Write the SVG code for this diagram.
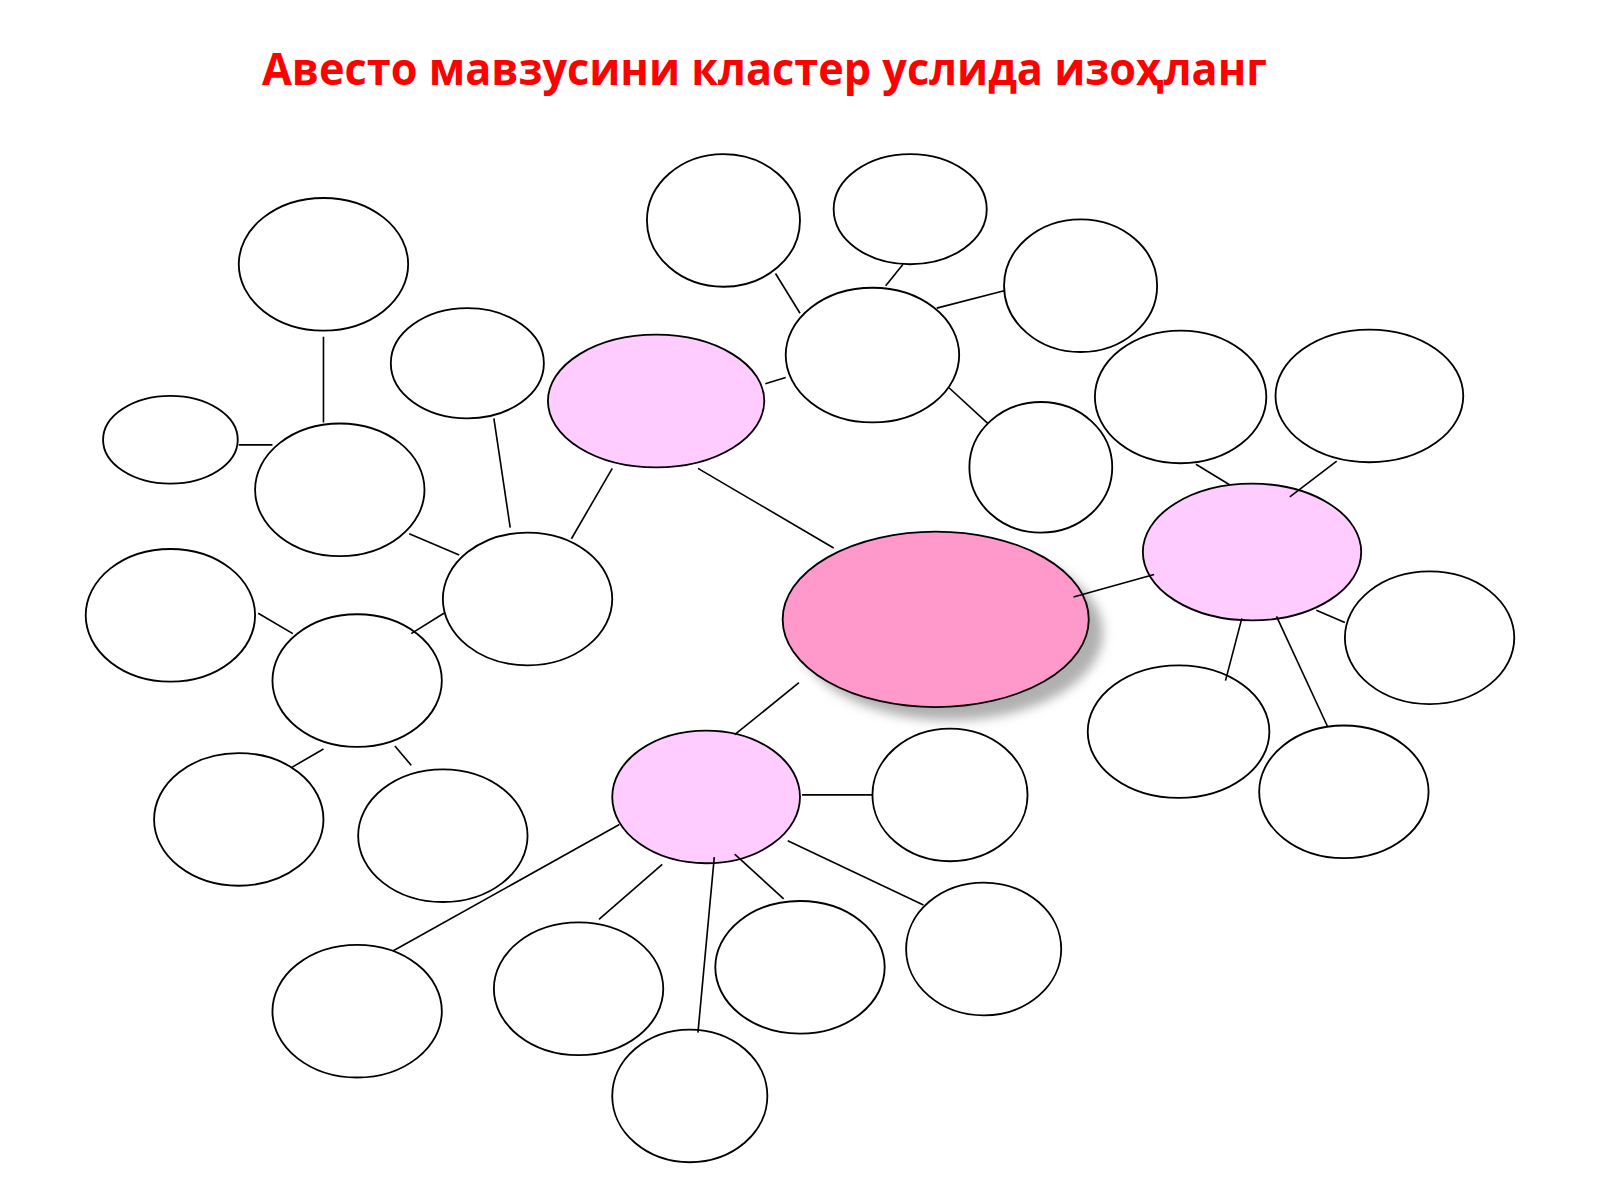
<svg xmlns="http://www.w3.org/2000/svg" width="1600" height="1200" viewBox="0 0 1600 1200">
<style>
.n{fill:#ffffff;stroke:#000;stroke-width:1.8}
.p{fill:#ffccff;stroke:#000;stroke-width:1.8}
.c{fill:#ff99cc;stroke:#000;stroke-width:1.8}
.l{stroke:#000;stroke-width:1.6;fill:none}
.t{font-family:"Open Sans","Noto Sans","DejaVu Sans",sans-serif;font-weight:bold;font-size:45px;fill:#ff0000}
</style>
<defs>
<filter id="sh" x="-20%" y="-20%" width="140%" height="140%"><feGaussianBlur stdDeviation="5"/></filter>
</defs>
<rect width="1600" height="1200" fill="#ffffff"/>
<text class="t" x="262" y="85" textLength="1005" lengthAdjust="spacingAndGlyphs">Авесто мавзусини кластер услида изоҳланг</text>
<g transform="scale(1.0204)">
<g id="center">
<ellipse cx="931" cy="620" rx="150" ry="86" fill="#b0b0b0" filter="url(#sh)"/>
<ellipse class="c" cx="917" cy="607" rx="150" ry="86"/>
</g>
<g id="hub1"><ellipse class="p" cx="643" cy="393" rx="106" ry="65"/></g>
<g id="hub2"><ellipse class="p" cx="1227" cy="541" rx="107" ry="67"/></g>
<g id="hub3"><ellipse class="p" cx="692" cy="781" rx="92" ry="65"/></g>
<g id="n5"><ellipse class="n" cx="317" cy="259" rx="83" ry="65"/></g>
<g id="n6"><ellipse class="n" cx="458" cy="356" rx="75" ry="54"/></g>
<g id="n7"><ellipse class="n" cx="167" cy="431" rx="66" ry="43"/></g>
<g id="n8"><ellipse class="n" cx="333" cy="480" rx="83" ry="65"/></g>
<g id="n9"><ellipse class="n" cx="517" cy="587" rx="83" ry="65"/></g>
<g id="n10"><ellipse class="n" cx="167" cy="603" rx="83" ry="65"/></g>
<g id="n11"><ellipse class="n" cx="350" cy="667" rx="83" ry="65"/></g>
<g id="n12"><ellipse class="n" cx="234" cy="803" rx="83" ry="65"/></g>
<g id="n13"><ellipse class="n" cx="434" cy="819" rx="83" ry="65"/></g>
<g id="n14"><ellipse class="n" cx="709" cy="216" rx="75" ry="65"/></g>
<g id="n15"><ellipse class="n" cx="892" cy="205" rx="75" ry="54"/></g>
<g id="n16"><ellipse class="n" cx="855" cy="348" rx="85" ry="66"/></g>
<g id="n17"><ellipse class="n" cx="1059" cy="280" rx="75" ry="65"/></g>
<g id="n18"><ellipse class="n" cx="1020" cy="458" rx="70" ry="64"/></g>
<g id="n19"><ellipse class="n" cx="1157" cy="389" rx="84" ry="65"/></g>
<g id="n20"><ellipse class="n" cx="1342" cy="388" rx="92" ry="65"/></g>
<g id="n21"><ellipse class="n" cx="1401" cy="625" rx="83" ry="65"/></g>
<g id="n22"><ellipse class="n" cx="1155" cy="717" rx="89" ry="65"/></g>
<g id="n23"><ellipse class="n" cx="1317" cy="776" rx="83" ry="65"/></g>
<g id="n24"><ellipse class="n" cx="931" cy="779" rx="76" ry="65"/></g>
<g id="n25"><ellipse class="n" cx="964" cy="930" rx="76" ry="65"/></g>
<g id="n26"><ellipse class="n" cx="784" cy="948" rx="83" ry="65"/></g>
<g id="n27"><ellipse class="n" cx="567" cy="969" rx="83" ry="65"/></g>
<g id="n28"><ellipse class="n" cx="350" cy="991" rx="83" ry="65"/></g>
<g id="n29"><ellipse class="n" cx="676" cy="1074" rx="76" ry="65"/></g>
<g id="connectors">
<line class="l" x1="317" y1="330" x2="317" y2="414"/>
<line class="l" x1="234" y1="436" x2="267" y2="436"/>
<line class="l" x1="484" y1="410" x2="500" y2="517"/>
<line class="l" x1="401" y1="523" x2="450" y2="544"/>
<line class="l" x1="560" y1="528" x2="600" y2="459"/>
<line class="l" x1="684" y1="459" x2="817" y2="537"/>
<line class="l" x1="750" y1="376" x2="770" y2="370"/>
<line class="l" x1="760" y1="268" x2="784" y2="307"/>
<line class="l" x1="868" y1="280" x2="885" y2="259"/>
<line class="l" x1="918" y1="302" x2="984" y2="285"/>
<line class="l" x1="930" y1="380" x2="968" y2="415"/>
<line class="l" x1="1052" y1="585" x2="1131" y2="563"/>
<line class="l" x1="1172" y1="455" x2="1205" y2="475"/>
<line class="l" x1="1310" y1="452" x2="1264" y2="487"/>
<line class="l" x1="1290" y1="598" x2="1318" y2="610"/>
<line class="l" x1="1217" y1="606" x2="1201" y2="667"/>
<line class="l" x1="1251" y1="604" x2="1301" y2="712"/>
<line class="l" x1="783" y1="669" x2="720" y2="720"/>
<line class="l" x1="786" y1="779" x2="855" y2="779"/>
<line class="l" x1="772" y1="824" x2="905" y2="887"/>
<line class="l" x1="720" y1="837" x2="768" y2="881"/>
<line class="l" x1="649" y1="847" x2="587" y2="901"/>
<line class="l" x1="607" y1="808" x2="385" y2="932"/>
<line class="l" x1="700" y1="840" x2="684" y2="1012"/>
<line class="l" x1="253" y1="601" x2="287" y2="621"/>
<line class="l" x1="403" y1="621" x2="435" y2="601"/>
<line class="l" x1="286" y1="752" x2="317" y2="734"/>
<line class="l" x1="387" y1="731" x2="403" y2="750"/>
</g>
</g>
</svg>
